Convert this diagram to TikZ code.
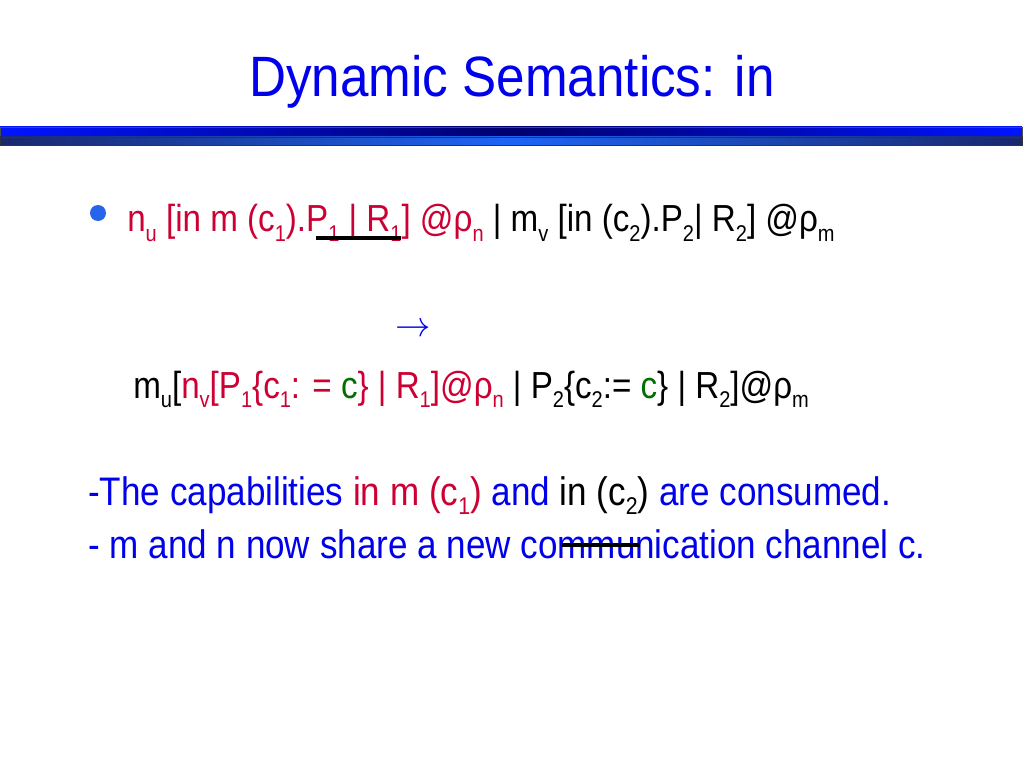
\documentclass[tikz,border=0pt]{standalone}
\usepackage{fontspec}
\setmainfont{Liberation Sans}[FakeStretch=0.88]
\newfontfamily\titlefont{Liberation Sans}[FakeStretch=0.9]
\usetikzlibrary{positioning}
\definecolor{titleblue}{RGB}{0,0,235}
\definecolor{capred}{RGB}{204,0,51}
\definecolor{chgreen}{RGB}{0,110,0}
\definecolor{barblue}{RGB}{0,20,255}
\definecolor{barnavy}{RGB}{0,0,110}
\definecolor{lowdark}{RGB}{25,40,110}
\definecolor{lowlight}{RGB}{30,100,245}
\definecolor{dotblue}{RGB}{40,100,235}
\newcommand\sbs[1]{\raisebox{-0.24em}{\fontsize{17}{17}\selectfont #1}}
\newcommand\sbr[1]{\raisebox{-0.24em}{\fontsize{16}{16}\selectfont #1}}
\newcommand\red[1]{\textcolor{capred}{#1}}
\newcommand\grn[1]{\textcolor{chgreen}{#1}}

\begin{document}
\begin{tikzpicture}[x=0.703125pt, y=-0.703125pt,
    line/.style={anchor=base west, inner sep=0pt, font=\fontsize{28}{30}\selectfont},
    rule line/.style={anchor=base west, inner sep=0pt, font=\fontsize{26.5}{28}\selectfont},
    mark line/.style={line width=2.2pt, black}]
		\useasboundingbox (0,0) rectangle (1024,768);
		\fill[white] (0,0) rectangle (1024,768);
		% title and bars
		\node[inner sep=0pt, anchor=base, text=titleblue, font=\titlefont\fontsize{40}{44}\selectfont] (title) at (512,97) {Dynamic Semantics: in};
		\shade[left color=barblue, right color=barblue, middle color=barnavy, draw=black!70, line width=0.5pt] (0,127) rectangle (1022,137);
		\shade[left color=lowdark, right color=lowdark, middle color=lowlight, draw=black!80, line width=0.5pt] (0,137) rectangle (1022,145);
		
		% rule
		\fill[dotblue] (98,213) circle (8);
		\node[rule line] (left) at (127,232) {\red{n\sbr{u} [in m (c\sbr{1}).P\sbr{1} | R\sbr{1}] @ρ\sbr{n}} | m\sbr{v} [in (c\sbr{2}).P\sbr{2}| R\sbr{2}] @ρ\sbr{m}};
		\node[inner sep=0pt, text=titleblue, font=\fontsize{28}{30}\selectfont] (arrow) at (413,330) {$\rightarrow$};
		\node[rule line] (right) at (133,398) {m\sbr{u}[\red{n\sbr{v}[P\sbr{1}\{c\sbr{1}: = }\grn{c}\red{\} | R\sbr{1}]@ρ\sbr{n}} | P\sbr{2}\{c\sbr{2}:= \grn{c}\} | R\sbr{2}]@ρ\sbr{m}};
		
		% remarks
		\node[line, text=titleblue] (consumed) at (88,505) {-The capabilities \red{in m (c\sbs{1})} and \textcolor{black}{in (c\sbs{2})} are consumed.};
		\node[line, text=titleblue] (share) at (88,558) {- m and n now share a new communication channel c.};
		
		\draw[mark line] (316,238) -- (401,238);
		\draw[mark line] (562,545) -- (640,545);
	\end{tikzpicture}
\end{document}
